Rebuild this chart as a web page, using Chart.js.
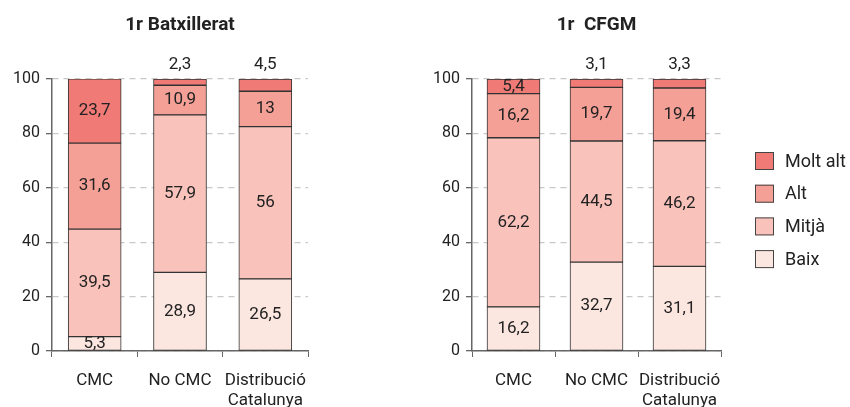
<!DOCTYPE html>
<html>
<head>
<meta charset="utf-8">
<script src="https://cdn.jsdelivr.net/npm/chart.js@4.4.1/dist/chart.umd.min.js"></script>
<style>
  body { margin: 0; background: #fff; }
  .panel { position: absolute; top: 0; width: 425px; height: 407px; }
</style>
</head>
<body>
<div class="panel" style="left:0"><canvas id="chartBatx" width="425" height="407"></canvas></div>
<div class="panel" style="left:425px"><canvas id="chartCfgm" width="425" height="407"></canvas></div>
<script>
const categories = ['CMC', 'No CMC', ['Distribució', 'Catalunya']];
const levels = ['Baix', 'Mitjà', 'Alt', 'Molt alt'];
const levelColors = ['#FCE6E0', '#F9C3BB', '#F5A096', '#F07A76'];

// 1r Batxillerat
const batxBaix = [5.3, 28.9, 26.5];
const batxMitja = [39.5, 57.9, 56];
const batxAlt = [31.6, 10.9, 13];
const batxMoltAlt = [23.7, 2.3, 4.5];

// 1r CFGM
const cfgmBaix = [16.2, 32.7, 31.1];
const cfgmMitja = [62.2, 44.5, 46.2];
const cfgmAlt = [16.2, 19.7, 19.4];
const cfgmMoltAlt = [5.4, 3.1, 3.3];

const yTicks = [0, 20, 40, 60, 80, 100];

const FONT = 'Roboto';
const fmt = v => String(v).replace('.', ',');

const valueLabels = {
  id: 'valueLabels',
  afterDatasetsDraw(chart) {
    const ctx = chart.ctx;
    ctx.save();
    ctx.font = '17px ' + FONT;
    ctx.fillStyle = '#222';
    ctx.textAlign = 'center';
    ctx.textBaseline = 'middle';
    const last = chart.data.datasets.length - 1;
    chart.data.datasets.forEach((ds, di) => {
      chart.getDatasetMeta(di).data.forEach((bar, i) => {
        const v = ds.data[i];
        let y = (bar.y + bar.base) / 2;
        // tiny top segments get their label above the bar
        if (di === last && v < 5) y = bar.y - 14;
        ctx.fillText(fmt(v), bar.x, y);
      });
    });
    ctx.restore();
  }
};

const panelTitle = {
  id: 'panelTitle',
  afterDraw(chart, args, opts) {
    const ctx = chart.ctx;
    const a = chart.chartArea;
    ctx.save();
    ctx.font = 'bold 19px ' + FONT;
    ctx.fillStyle = '#222';
    ctx.textAlign = 'center';
    ctx.textBaseline = 'middle';
    ctx.fillText(opts.text, (a.left + a.right) / 2, 25);
    ctx.restore();
  }
};

const sideLegend = {
  id: 'sideLegend',
  afterDraw(chart, args, opts) {
    if (!opts.show) return;
    const ctx = chart.ctx;
    const sets = chart.data.datasets.slice().reverse();
    ctx.save();
    ctx.font = '18px ' + FONT;
    ctx.textBaseline = 'middle';
    sets.forEach((ds, i) => {
      const cy = 161 + i * 32.7;
      ctx.fillStyle = ds.backgroundColor;
      ctx.fillRect(330, cy - 9, 19, 18);
      ctx.strokeStyle = '#444';
      ctx.lineWidth = 1;
      ctx.strokeRect(330.5, cy - 8.5, 18, 17);
      ctx.fillStyle = '#222';
      ctx.fillText(ds.label, 360, cy + 1);
    });
    ctx.restore();
  }
};

function makeChart(id, title, series, yWidth, padRight, showLegend) {
  const datasets = series.map((data, k) => ({
    label: levels[k],
    data: data,
    backgroundColor: levelColors[k],
    borderColor: '#333',
    borderWidth: 1,
    borderSkipped: false,
    barThickness: 53
  }));
  return new Chart(document.getElementById(id), {
    type: 'bar',
    data: { labels: categories, datasets },
    plugins: [valueLabels, panelTitle, sideLegend],
    options: {
      responsive: false,
      animation: false,
      layout: { padding: { top: 79, right: padRight, left: 0, bottom: 0 } },
      plugins: {
        legend: { display: false },
        tooltip: { enabled: false },
        panelTitle: { text: title },
        sideLegend: { show: showLegend }
      },
      scales: {
        x: {
          stacked: true,
          grid: { offset: true, drawOnChartArea: false, tickLength: 6, color: '#666' },
          border: { color: '#666', width: 1.5 },
          ticks: { color: '#222', font: { family: FONT, size: 17, lineHeight: 1.15 }, padding: 14, maxRotation: 0, autoSkip: false },
          afterFit: s => { s.height = 56; }
        },
        y: {
          stacked: true,
          min: 0,
          max: 100,
          afterBuildTicks: s => { s.ticks = yTicks.map(v => ({ value: v })); },
          grid: { color: '#c8c8c8', tickColor: '#666', tickLength: 6, lineWidth: 1.3 },
          border: { color: '#666', width: 1.5, dash: [6, 5] },
          ticks: { color: '#222', font: { family: FONT, size: 16 }, padding: 6 },
          afterFit: s => { s.width = yWidth; }
        }
      }
    }
  });
}

makeChart('chartBatx', '1r Batxillerat', [batxBaix, batxMitja, batxAlt, batxMoltAlt], 52, 117, false);
makeChart('chartCfgm', '1r  CFGM', [cfgmBaix, cfgmMitja, cfgmAlt, cfgmMoltAlt], 47, 129, true);
</script>
</body>
</html>
